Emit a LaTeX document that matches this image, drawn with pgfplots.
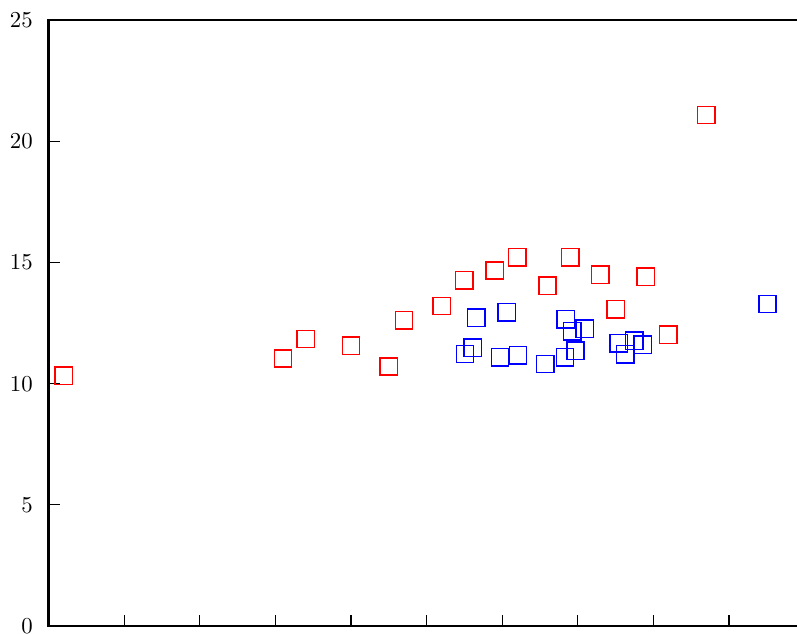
\documentclass[border=0pt]{standalone}
\usepackage{pgfplots}
\pgfplotsset{compat=1.18}

% both series, class r = red, b = blue
\pgfplotstableread{
x y c
0.2 10.33 r
3.1 11.04 r
3.4 11.85 r
4.0 11.57 r
4.5 10.71 r
4.7 12.62 r
5.2 13.21 r
5.5 14.26 r
5.9 14.67 r
6.2 15.22 r
6.6 14.04 r
6.9 15.22 r
7.3 14.50 r
7.5 13.07 r
7.9 14.41 r
8.2 12.02 r
8.7 21.09 r
5.51 11.23 b
5.61 11.49 b
5.66 12.73 b
5.97 11.09 b
6.06 12.95 b
6.21 11.17 b
6.57 10.81 b
6.83 11.09 b
6.84 12.66 b
6.93 12.16 b
6.97 11.36 b
7.09 12.27 b
7.54 11.67 b
7.63 11.21 b
7.75 11.78 b
7.86 11.61 b
9.51 13.29 b
}\pts

\begin{document}
\begin{tikzpicture}
\begin{axis}[
scale only axis,
width=331.6pt,
height=265.8pt,
xmin=0, xmax=10,
ymin=0, ymax=25,
xtick={0,1,...,10},
xticklabels={},
ytick={0,5,10,15,20,25},
xtick pos=left,
ytick pos=left,
tick align=inside,
major tick length=5pt,
tick style={line width=0.5pt, black},
axis line style={line width=1.2pt},
yticklabel style={xshift=-3.4pt},
]
\addplot[scatter, only marks, point meta=explicit symbolic,
  scatter/classes={
    r={mark=square, mark size=3.8pt, draw=red, line width=0.6pt},
    b={mark=square, mark size=3.8pt, draw=blue, line width=0.6pt}}]
  table[meta=c] {\pts};
\coordinate (bbsw) at (axis cs:-0.642,-0.29);
\coordinate (bbne) at (axis cs:9.90,25.83);
\end{axis}
\pgfresetboundingbox
\useasboundingbox (bbsw) rectangle (bbne);
\end{tikzpicture}
\end{document}
